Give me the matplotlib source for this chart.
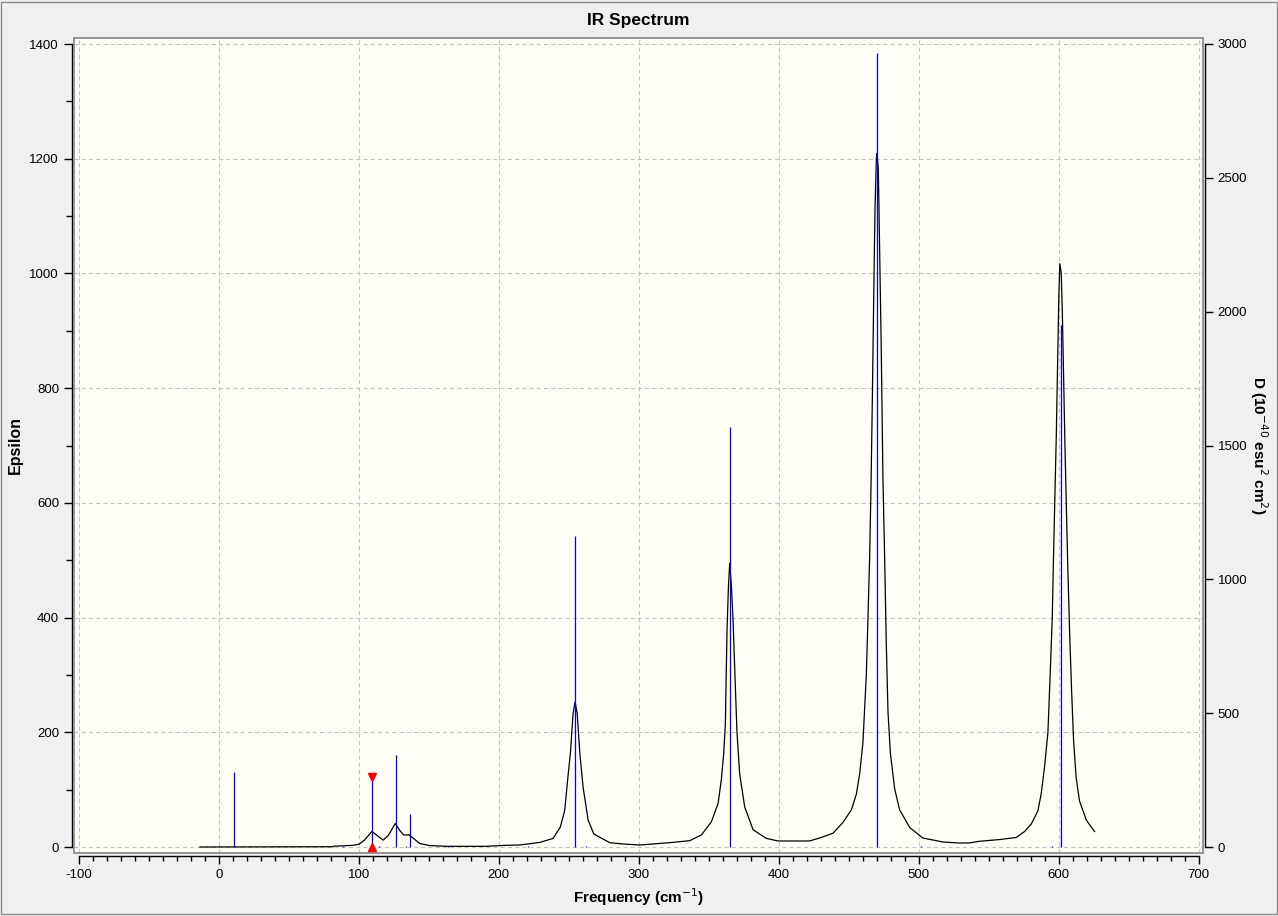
import matplotlib
matplotlib.use('Agg')
from matplotlib import pyplot as plt
from matplotlib.patches import Rectangle
from matplotlib.ticker import MultipleLocator

plt.rcParams['font.family'] = ['Liberation Sans', 'DejaVu Sans']
plt.rcParams['lines.scale_dashes'] = False
plt.rcParams['axes.unicode_minus'] = False

# broadened spectrum, Epsilon
freq = [-13.6, 81.7, 82, 88.6, 95.9, 100.2, 104, 109.3, 113, 117.4, 121, 126, 129.5,
        132, 136, 139, 143.6, 150.7, 162.6, 191, 205.5, 215, 219.8, 229.3, 238.8, 244,
        247.1, 249.5, 251.2, 252.1, 253.1, 254.5, 256, 257.9, 260.2, 263.8, 267.9, 279.3,
        290, 300.7, 322, 336.4, 344.8, 351.9, 356.7, 359, 360.7, 361.9, 362.5, 363.1,
        364.1, 365, 366.2, 367.4, 368.6, 370.2, 372.1, 375.7, 381.7, 391.2, 399.5, 422,
        429.3, 438.8, 446, 452, 455.5, 457.9, 460.2, 462.6, 463.8, 465, 466, 466.9, 467.9,
        468.8, 469.8, 470.2, 471.2, 472.1, 473.3, 474.5, 475.7, 476.9, 478.1, 479.8,
        482.9, 486.4, 493.6, 503, 517.4, 529, 536, 543.6, 557.9, 569.8, 575.7, 580.5,
        585.2, 587.6, 590, 592.4, 594.1, 595.5, 596.4, 597.4, 598.4, 599.3, 600.2, 600.9,
        601.9, 602.6, 603.6, 604.5, 605.5, 606.6, 607.9, 609.3, 610.7, 612.6, 615, 619.8,
        625.7]
epsilon = [0, 0.5, 1.5, 2, 3, 5, 12, 27, 20, 12, 20, 41, 28,
           21, 21, 15, 6, 2.5, 1.2, 1.2, 3, 3.5, 5, 8, 15, 35,
           64, 125, 165, 198, 233, 253, 233, 163, 105, 47, 22.7, 7.5,
           5, 3.5, 7.5, 11, 21, 44, 76, 117, 163, 215, 300, 380,
           455, 495, 455, 396, 309, 200, 128, 70, 30, 15, 10.5, 10.5,
           15.7, 24, 43, 65, 92, 128, 182, 299, 399, 506, 632, 776, 957,
           1110, 1200, 1209, 1182, 1047, 866, 642, 506, 353, 236, 164,
           101, 65, 34, 15.7, 8.7, 7, 7, 10, 13, 16.6, 27, 40,
           63, 93, 140, 200, 307, 400, 507, 614, 720, 841, 961, 1017,
           1001, 941, 821, 707, 600, 487, 374, 274, 187, 120, 80, 47,
           27]

# stick spectrum, D (10^-40 esu^2 cm^2)
stick_freq = [10.9, 88.6, 109.5, 114.2, 126.2, 134, 136.7, 163.6, 221, 254.5, 262,
              365.2, 470.2, 502, 595.5, 601.4]
stick_d = [280, 5, 261.5, 5, 344, 5, 123, 4, 4, 1163, 5,
           1569, 2966, 4, 5, 1950]

selected_freq = 109.5
selected_d = 261.5

fig = plt.figure(figsize=(12.78, 9.16), dpi=100, facecolor='#f0f0f0')
W, H = 1278.0, 916.0
ax = fig.add_axes([74 / W, (H - 853) / H, (1203 - 74) / W, (853 - 38) / H])
ax.set_facecolor('#fefef6')

ax.set_xlim(-100 - 5 / 1.4, 700 + 4.5 / 1.4)
ax.set_ylim(-6 * 1400 / 803, 1400 + 6 * 1400 / 803)

# dashed grid
for gx in range(-100, 701, 100):
    ax.axvline(gx, color='#c4c4c4', lw=0.8, ls=(0, (3, 2.2)), zorder=0)
for gy in range(0, 1401, 200):
    ax.axhline(gy, color='#c4c4c4', lw=0.8, ls=(0, (3, 2.2)), zorder=0)

ax.plot(freq, epsilon, color='black', lw=0.9, zorder=2)

# gray frame around plot area
ax.add_patch(Rectangle((0, 0), 1, 1, transform=ax.transAxes, fill=False,
                       edgecolor='#8c8c8c', lw=1.3, clip_on=False, zorder=5))

ax.spines['top'].set_visible(False)
ax.spines['right'].set_visible(False)
ax.spines['left'].set_position(('outward', 1.8))
ax.spines['left'].set_bounds(0, 1400)
ax.spines['bottom'].set_position(('outward', 2.2))
ax.spines['bottom'].set_bounds(-100, 700)
for s in ['left', 'bottom']:
    ax.spines[s].set_linewidth(1.0)

ax.xaxis.set_major_locator(MultipleLocator(100))
ax.xaxis.set_minor_locator(MultipleLocator(10))
ax.yaxis.set_major_locator(MultipleLocator(200))
ax.yaxis.set_minor_locator(MultipleLocator(100))
ax.tick_params(axis='x', which='major', length=6, width=1, labelsize=9.5, pad=3)
ax.tick_params(axis='x', which='minor', length=3.5, width=1)
ax.tick_params(axis='y', which='major', length=6, width=1, labelsize=9.5, pad=3)
ax.tick_params(axis='y', which='minor', length=4.5, width=1)

ax2 = ax.twinx()
ax2.set_ylim(-6 * 3000 / 803, 3000 + 6 * 3000 / 803)
ax2.spines['top'].set_visible(False)
ax2.spines['left'].set_visible(False)
ax2.spines['bottom'].set_visible(False)
ax2.spines['right'].set_position(('outward', 1.5))
ax2.spines['right'].set_bounds(0, 3000)
ax2.spines['right'].set_linewidth(1.0)
ax2.yaxis.set_major_locator(MultipleLocator(500))
ax2.tick_params(axis='y', which='major', length=6, width=1, labelsize=9.5, pad=3)

ax2.vlines(stick_freq, 0, stick_d, color='#0000ff', lw=0.9, zorder=3)
ax2.plot([selected_freq], [selected_d], marker='v', color='#ff0000', ms=6, ls='none', zorder=4)
ax2.plot([selected_freq], [0], marker='^', color='#ff0000', ms=6, ls='none', zorder=4)

ax.set_title('IR Spectrum', fontsize=12.5, fontweight='bold', pad=9)
ax.set_xlabel('Frequency (cm$^{-1}$)', fontsize=11, fontweight='bold', labelpad=4)
ax.set_ylabel('Epsilon', fontsize=11.5, fontweight='bold', labelpad=5)
ax2.set_ylabel('D (10$^{-40}$ esu$^2$ cm$^2$)', fontsize=11, fontweight='bold',
               rotation=-90, labelpad=16)

# outer border of the window
fig.add_artist(Rectangle((0.5 / W, 2 / H), 1 - 1.5 / W, 1 - 4 / H, transform=fig.transFigure,
                         fill=False, edgecolor='#8c8c8c', lw=1.0))

fig.savefig('out.png', dpi=100, facecolor=fig.get_facecolor())
